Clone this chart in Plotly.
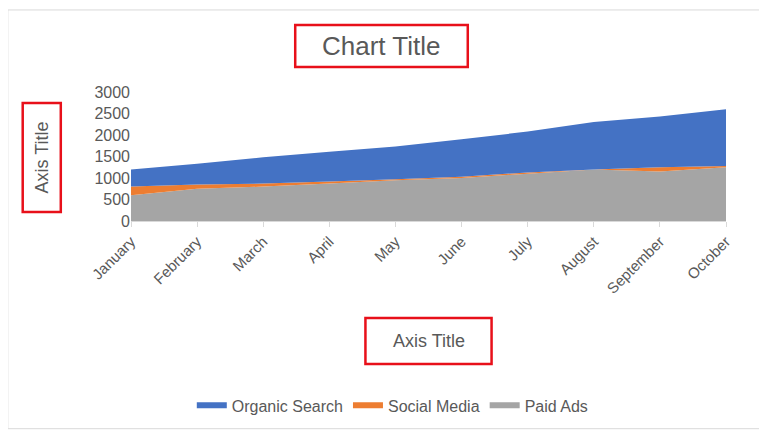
import plotly.graph_objects as go

months = ["January", "February", "March", "April", "May", "June",
          "July", "August", "September", "October"]
paid_ads = [600, 750, 800, 870, 950, 1000, 1100, 1200, 1150, 1250]
social_media = [200, 100, 70, 50, 20, 30, 30, 0, 100, 30]
organic_search = [400, 480, 610, 690, 760, 870, 950, 1100, 1180, 1320]

fig = go.Figure()
# von unten nach oben gestapelt, Legende in Originalreihenfolge
fig.add_trace(go.Scatter(x=months, y=paid_ads, name="Paid Ads", stackgroup="one",
                         mode="none", fillcolor="#a5a5a5", legendrank=3))
fig.add_trace(go.Scatter(x=months, y=social_media, name="Social Media", stackgroup="one",
                         mode="none", fillcolor="#ed7d31", legendrank=2))
fig.add_trace(go.Scatter(x=months, y=organic_search, name="Organic Search", stackgroup="one",
                         mode="none", fillcolor="#4472c4", legendrank=1))

red = dict(color="#e8101a", width=2.5)
fig.update_layout(
    width=759, height=431,
    margin=dict(l=123, r=41, t=84, b=218),
    plot_bgcolor="white", paper_bgcolor="white",
    font=dict(family="Liberation Sans, Arial", color="#595959", size=13),
    showlegend=True,
    legend=dict(orientation="h", x=0.44, xanchor="center", y=-1.43, yanchor="middle",
                font=dict(size=16), traceorder="normal"),
    xaxis=dict(range=[0, 9], showgrid=False, tickangle=-45, ticks="outside",
               tickcolor="#d9d9d9", showline=True, linecolor="#d9d9d9",
               tickfont=dict(size=15)),
    yaxis=dict(range=[0, 3000], dtick=500, showgrid=False, zeroline=False,
               tickfont=dict(size=16)),
    shapes=[
        dict(type="rect", xref="paper", yref="paper", x0=0.276, x1=0.566, y0=1.194, y1=1.519, line=red),
        dict(type="rect", xref="paper", yref="paper", x0=-0.182, x1=-0.118, y0=0.07, y1=0.915, line=red),
        dict(type="rect", xref="paper", yref="paper", x0=0.394, x1=0.606, y0=-0.752, y1=-1.109, line=red),
        dict(type="rect", xref="paper", yref="paper", x0=-0.207, x1=1.066, y0=-1.61, y1=1.636,
             line=dict(color="#d9d9d9", width=1)),
    ],
    annotations=[
        dict(text="Chart Title", xref="paper", yref="paper", x=0.421, y=1.356, showarrow=False,
             xanchor="center", yanchor="middle", font=dict(size=26, color="#595959")),
        dict(text="Axis Title", xref="paper", yref="paper", x=-0.15, y=0.49, showarrow=False,
             xanchor="center", yanchor="middle", textangle=-90,
             font=dict(size=18, color="#595959")),
        dict(text="Axis Title", xref="paper", yref="paper", x=0.5, y=-0.93, showarrow=False,
             xanchor="center", yanchor="middle", font=dict(size=18, color="#595959")),
    ],
)

fig.write_html("out.html")
